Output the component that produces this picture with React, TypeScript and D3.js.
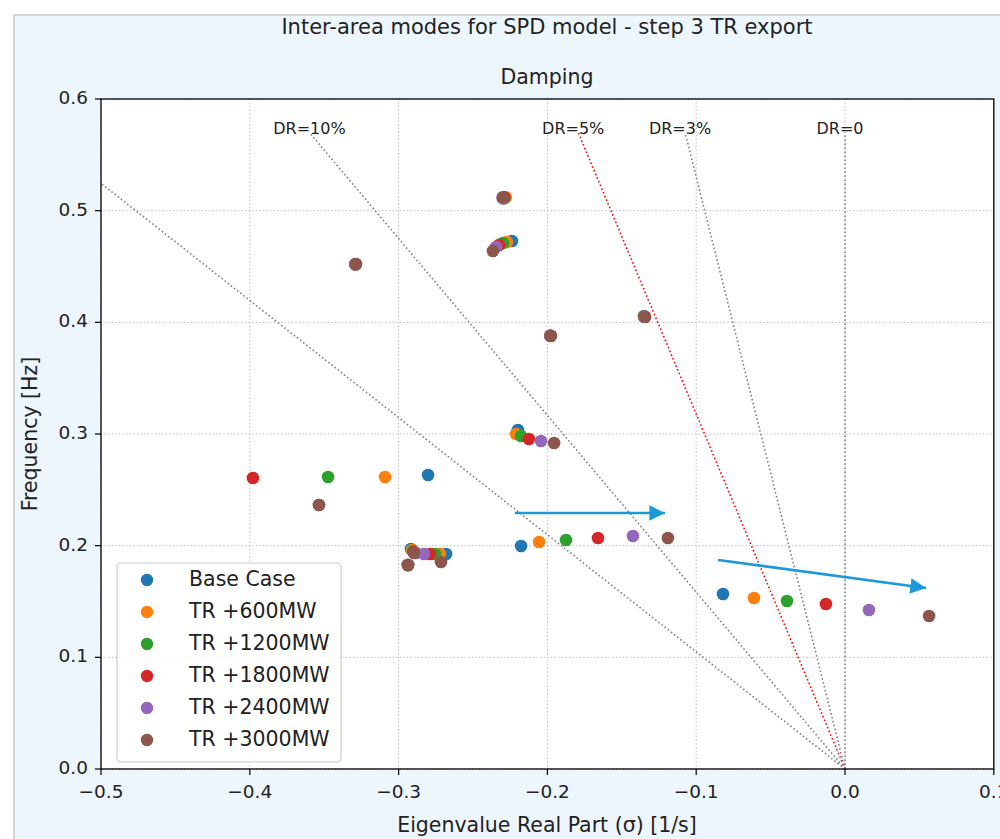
import * as d3 from 'd3';

// series names and colours (matplotlib tab10)
const seriesNames = ['Base Case', 'TR +600MW', 'TR +1200MW', 'TR +1800MW', 'TR +2400MW', 'TR +3000MW'];
const seriesColors = ['#1f77b4', '#ff7f0e', '#2ca02c', '#d62728', '#9467bd', '#8c564b'];

// eigenvalue real part (sigma) and frequency of the inter-area modes, per case
const baseSigma = [-0.229, -0.2238, -0.329, -0.1351, -0.198, -0.2198, -0.2802, -0.2177, -0.082, -0.2917, -0.2681, -0.2937];
const baseFreq = [0.512, 0.4728, 0.452, 0.4057, 0.388, 0.3036, 0.2633, 0.1997, 0.1567, 0.197, 0.1925, 0.1827];
const tr600Sigma = [-0.228, -0.2272, -0.329, -0.135, -0.198, -0.2211, -0.3091, -0.2056, -0.0612, -0.291, -0.2722, -0.2937];
const tr600Freq = [0.512, 0.4719, 0.452, 0.405, 0.388, 0.3, 0.2615, 0.2033, 0.1531, 0.1961, 0.1925, 0.1827];
const tr1200Sigma = [-0.229, -0.2298, -0.329, -0.135, -0.198, -0.2177, -0.3474, -0.1875, -0.039, -0.2903, -0.2755, -0.2937];
const tr1200Freq = [0.511, 0.471, 0.452, 0.405, 0.388, 0.2982, 0.2615, 0.2051, 0.1504, 0.1952, 0.1925, 0.1827];
const tr1800Sigma = [-0.229, -0.2325, -0.329, -0.1347, -0.198, -0.2124, -0.3979, -0.166, -0.0128, -0.2897, -0.2789, -0.2937];
const tr1800Freq = [0.512, 0.4692, 0.452, 0.405, 0.388, 0.2955, 0.2606, 0.2069, 0.1478, 0.1943, 0.1925, 0.1827];
const tr2400Sigma = [-0.23, -0.2345, -0.329, -0.1345, -0.198, -0.2043, -0.3535, -0.1425, 0.0161, -0.2883, -0.2829, -0.2937];
const tr2400Freq = [0.511, 0.4674, 0.452, 0.405, 0.388, 0.2937, 0.2364, 0.2087, 0.1424, 0.1934, 0.1925, 0.1827];
const tr3000Sigma = [-0.23, -0.2366, -0.3286, -0.1344, -0.1976, -0.1955, -0.3535, -0.119, 0.0565, -0.2897, -0.2715, -0.2937];
const tr3000Freq = [0.512, 0.4639, 0.4522, 0.4048, 0.3877, 0.2919, 0.2364, 0.2069, 0.137, 0.1934, 0.1854, 0.1827];

const sigmas = [baseSigma, tr600Sigma, tr1200Sigma, tr1800Sigma, tr2400Sigma, tr3000Sigma];
const freqs = [baseFreq, tr600Freq, tr1200Freq, tr1800Freq, tr2400Freq, tr3000Freq];

// constant damping ratio lines
const drValues = [0.15, 0.1, 0.05, 0.03, 0];
const drLabels = ['', 'DR=10%', 'DR=5%', 'DR=3%', 'DR=0'];
const drColors = ['#808080', '#808080', '#ff0000', '#808080', '#808080'];
const drLabelShift = [0, 0, -5, -5, -5];
const drTopFreq = 0.57;

// ticks
const xTicks = [-0.5, -0.4, -0.3, -0.2, -0.1, 0, 0.1];
const xTickLabels = ['\u22120.5', '\u22120.4', '\u22120.3', '\u22120.2', '\u22120.1', '0.0', '0.1'];
const yTicks = [0, 0.1, 0.2, 0.3, 0.4, 0.5, 0.6];
const yTickLabels = ['0.0', '0.1', '0.2', '0.3', '0.4', '0.5', '0.6'];

// annotation arrows [sigma0, f0, sigma1, f1]
const arrows = [
  [-0.2218, 0.2292, -0.121, 0.2292],
  [-0.0853, 0.1872, 0.0544, 0.1621],
];

const W = 1000, H = 839;
const [left, right, top, bottom] = [101, 993.8, 99, 769];
const font = '"DejaVu Sans", sans-serif';

function App() {
  const x = d3.scaleLinear().domain([-0.5, 0.1]).range([left, right]);
  const y = d3.scaleLinear().domain([0, 0.6]).range([bottom, top]);

  const drSigma = (z: number) => (z === 0 ? 0 : -drTopFreq * 2 * Math.PI * z / Math.sqrt(1 - z * z));
  const arrowColor = '#1a9ad6';

  return (
    <div>
      <style>{'body{margin:0}'}</style>
      <svg width={W} height={H} style={{ display: 'block', fontFamily: font }}>
        <defs>
          <clipPath id="plot">
            <rect x={left} y={top} width={right - left} height={bottom - top} />
          </clipPath>
          <marker id="head" viewBox="0 0 10 10" refX="10" refY="5" markerWidth="7.5" markerHeight="6" markerUnits="strokeWidth" orient="auto">
            <path d="M0,0 L10,5 L0,10 z" fill={arrowColor} />
          </marker>
        </defs>
        <rect width={W} height={H} fill="#fff" />
        <rect x={14} y={15} width={W} height={H} fill="#eef6fd" stroke="#d4d4d4" strokeWidth={2} />

        <text x={547} y={28} textAnchor="middle" dominantBaseline="middle" fontSize={21} fill="#222">
          Inter-area modes for SPD model - step 3 TR export
        </text>
        <text x={547} y={78} textAnchor="middle" dominantBaseline="middle" fontSize={20.5} fill="#222">
          Damping
        </text>

        <rect x={left} y={top} width={right - left} height={bottom - top} fill="#fff" />

        {/* grid */}
        <g stroke="#b0b0b0" strokeWidth={1} strokeDasharray="1.2,2.4">
          {xTicks.map((t) => <line key={'gx' + t} x1={x(t)} x2={x(t)} y1={top} y2={bottom} />)}
          {yTicks.map((t) => <line key={'gy' + t} x1={left} x2={right} y1={y(t)} y2={y(t)} />)}
        </g>

        {/* scatter */}
        <g clipPath="url(#plot)">
          {sigmas.map((ss, i) => (
            <g key={seriesNames[i]} fill={seriesColors[i]}>
              {ss.map((s, j) => <circle key={j} cx={x(s)} cy={y(freqs[i][j])} r={6.3} />)}
            </g>
          ))}
        </g>

        {/* damping ratio lines */}
        <g clipPath="url(#plot)" fill="none">
          {drValues.map((z, i) => (
            <line key={'dr' + z} x1={x(0)} y1={y(0)} x2={x(drSigma(z))} y2={y(drTopFreq)}
              stroke={drColors[i]} strokeWidth={1.6} strokeDasharray="1.6,2.4" />
          ))}
        </g>
        {drValues.map((z, i) => drLabels[i] && (
          <text key={'drl' + z} x={x(drSigma(z)) + drLabelShift[i]} y={y(drTopFreq) + 1} textAnchor="middle" fontSize={16} fill="#222">
            {drLabels[i]}
          </text>
        ))}

        {/* arrows */}
        {arrows.map((a, i) => (
          <line key={'ar' + i} x1={x(a[0])} y1={y(a[1])} x2={x(a[2])} y2={y(a[3])}
            stroke={arrowColor} strokeWidth={2.6} markerEnd="url(#head)" />
        ))}

        {/* frame */}
        <rect x={left} y={top} width={right - left} height={bottom - top} fill="none" stroke="#000" strokeWidth={1.3} />

        {/* axes ticks */}
        <g fontSize={18.5} fill="#222">
          {xTicks.map((t, i) => (
            <g key={'xt' + t}>
              <line x1={x(t)} x2={x(t)} y1={bottom} y2={bottom + 6} stroke="#000" strokeWidth={1.2} />
              <text x={x(t)} y={bottom + 29} textAnchor="middle">{xTickLabels[i]}</text>
            </g>
          ))}
          {yTicks.map((t, i) => (
            <g key={'yt' + t}>
              <line x1={left - 6} x2={left} y1={y(t)} y2={y(t)} stroke="#000" strokeWidth={1.2} />
              <text x={left - 13} y={y(t)} textAnchor="end" dominantBaseline="middle">{yTickLabels[i]}</text>
            </g>
          ))}
        </g>

        <text x={547} y={826} textAnchor="middle" dominantBaseline="middle" fontSize={20.5} fill="#222">
          Eigenvalue Real Part (σ) [1/s]
        </text>
        <text transform={`translate(31,434) rotate(-90)`} textAnchor="middle" dominantBaseline="middle" fontSize={20.5} fill="#222">
          Frequency [Hz]
        </text>

        {/* legend */}
        <rect x={117} y={563} width={224} height={199} rx={4} fill="#fff" fillOpacity={0.8} stroke="#cccccc" strokeWidth={1.2} />
        {seriesNames.map((n, i) => (
          <g key={'lg' + n}>
            <circle cx={147} cy={580 + 32 * i} r={6.2} fill={seriesColors[i]} />
            <text x={189} y={580 + 32 * i} dominantBaseline="middle" fontSize={20.5} fill="#222">{n}</text>
          </g>
        ))}
      </svg>
    </div>
  );
}

export default App;
